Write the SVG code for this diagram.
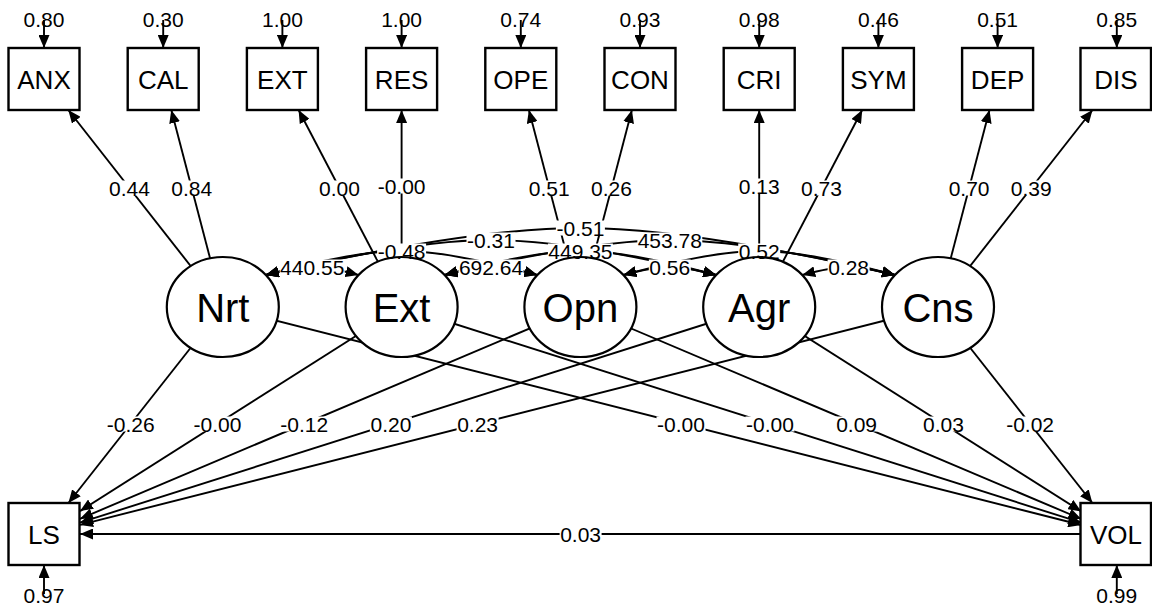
<svg xmlns="http://www.w3.org/2000/svg" width="1152" height="609" viewBox="0 0 1152 609">
<style>
.e{fill:none;stroke:#000;stroke-width:1.9}
.a{marker-end:url(#ah)}
.d{marker-start:url(#ah);marker-end:url(#ah)}
.box{fill:#fff;stroke:#000;stroke-width:2.4}
.lat{fill:#fff;stroke:#000;stroke-width:2.2}
.t{font-family:"Liberation Sans",Arial,sans-serif;text-anchor:middle;fill:#000}
.mn{font-size:26px}
.lt{font-size:40px}
.lb{font-size:21px}
.bg{fill:#fff}
</style>
<defs>
<marker id="ah" viewBox="0 0 13 11" refX="13" refY="5.5" markerWidth="13" markerHeight="11" markerUnits="userSpaceOnUse" orient="auto-start-reverse"><path d="M0,0 L13,5.5 L0,11 z" fill="#000"/></marker>
</defs>
<rect width="1152" height="609" fill="#fff"/>

<g id="connectors">
<!-- loadings -->
<path class="e a" d="M222.8,307 L68.3,110"/>
<path class="e a" d="M222.8,307 L171.3,110"/>
<path class="e a" d="M401.6,307 L298.6,110"/>
<path class="e a" d="M401.6,307 L401.6,110"/>
<path class="e a" d="M580.4,307 L528.9,110"/>
<path class="e a" d="M580.4,307 L631.9,110"/>
<path class="e a" d="M759.2,307 L759.2,110"/>
<path class="e a" d="M759.2,307 L862.2,110"/>
<path class="e a" d="M938,307 L989.5,110"/>
<path class="e a" d="M938,307 L1092.5,110"/>
<!-- residual variances -->
<path class="e a" d="M44,20 L44,48"/>
<path class="e a" d="M163.2,20 L163.2,48"/>
<path class="e a" d="M282.4,20 L282.4,48"/>
<path class="e a" d="M401.6,20 L401.6,48"/>
<path class="e a" d="M520.8,20 L520.8,48"/>
<path class="e a" d="M640,20 L640,48"/>
<path class="e a" d="M759.2,20 L759.2,48"/>
<path class="e a" d="M878.4,20 L878.4,48"/>
<path class="e a" d="M997.6,20 L997.6,48"/>
<path class="e a" d="M1116.8,20 L1116.8,48"/>
<path class="e a" d="M44,594 L44,565"/>
<path class="e a" d="M1116.8,594 L1116.8,565"/>
<!-- regressions to LS -->
<path class="e a" d="M222.8,307 L68.4,503"/>
<path class="e a" d="M401.6,307 L80,511.1"/>
<path class="e a" d="M580.4,307 L80,518.8"/>
<path class="e a" d="M759.2,307 L80,522.6"/>
<path class="e a" d="M938,307 L80,524.9"/>
<!-- regressions to VOL -->
<path class="e a" d="M222.8,307 L1081.3,525"/>
<path class="e a" d="M401.6,307 L1081.3,522.7"/>
<path class="e a" d="M580.4,307 L1081.3,519"/>
<path class="e a" d="M759.2,307 L1081.3,511.5"/>
<path class="e a" d="M938,307 L1092.4,503"/>
<!-- VOL -> LS -->
<path class="e a" d="M1081.3,534 L80,534"/>
<!-- covariances -->
<path class="e d" d="M265.8,275 Q296,267 312.2,267 Q328.4,267 358.6,275"/>
<path class="e d" d="M265.8,275 Q354.1,251 401.6,251 Q449.1,251 537.4,275"/>
<path class="e d" d="M265.8,275 Q412.2,240 491,240 Q569.8,240 716.2,275"/>
<path class="e d" d="M265.8,275 Q470.3,228 580.4,228 Q690.5,228 895,275"/>
<path class="e d" d="M444.6,275 Q474.8,267 491,267 Q507.2,267 537.4,275"/>
<path class="e d" d="M444.6,275 Q532.9,251 580.4,251 Q627.9,251 716.2,275"/>
<path class="e d" d="M444.6,275 Q591,240 669.8,240 Q748.6,240 895,275"/>
<path class="e d" d="M623.4,275 Q653.6,267 669.8,267 Q686,267 716.2,275"/>
<path class="e d" d="M623.4,275 Q711.7,251 759.2,251 Q806.7,251 895,275"/>
<path class="e d" d="M802.2,275 Q832.4,267 848.6,267 Q864.8,267 895,275"/>
</g>

<g id="label-backgrounds" class="bg">
<rect x="108.5" y="180.5" width="42" height="15"/>
<rect x="170.7" y="180.5" width="42" height="15"/>
<rect x="318.4" y="180.5" width="42" height="15"/>
<rect x="377.1" y="178.5" width="49" height="15"/>
<rect x="528.3" y="180.5" width="42" height="15"/>
<rect x="590.5" y="180.5" width="42" height="15"/>
<rect x="738.2" y="178.5" width="42" height="15"/>
<rect x="800.4" y="180.5" width="42" height="15"/>
<rect x="948.1" y="180.5" width="42" height="15"/>
<rect x="1010.3" y="180.5" width="42" height="15"/>
<rect x="106.2" y="416.5" width="49" height="15"/>
<rect x="192.9" y="416.5" width="49" height="15"/>
<rect x="279.7" y="416.5" width="49" height="15"/>
<rect x="369.9" y="416.5" width="42" height="15"/>
<rect x="456.6" y="416.5" width="42" height="15"/>
<rect x="656.5" y="416.5" width="49" height="15"/>
<rect x="745.4" y="416.5" width="49" height="15"/>
<rect x="835.6" y="416.5" width="42" height="15"/>
<rect x="922.4" y="416.5" width="42" height="15"/>
<rect x="1005.6" y="416.5" width="49" height="15"/>
<rect x="559.6" y="526.5" width="42" height="15"/>
<rect x="279.7" y="259.5" width="65" height="15"/>
<rect x="377.1" y="243.5" width="49" height="15"/>
<rect x="466.5" y="232.5" width="49" height="15"/>
<rect x="555.9" y="220.5" width="49" height="15"/>
<rect x="458.5" y="259.5" width="65" height="15"/>
<rect x="547.9" y="243.5" width="65" height="15"/>
<rect x="637.3" y="232.5" width="65" height="15"/>
<rect x="648.8" y="259.5" width="42" height="15"/>
<rect x="738.2" y="243.5" width="42" height="15"/>
<rect x="827.6" y="259.5" width="42" height="15"/>
</g>

<g id="ANX"><rect class="box" x="8.5" y="48" width="71" height="62"/><text class="t mn" x="44" y="88.5">ANX</text></g>
<g id="CAL"><rect class="box" x="127.7" y="48" width="71" height="62"/><text class="t mn" x="163.2" y="88.5">CAL</text></g>
<g id="EXT"><rect class="box" x="246.9" y="48" width="71" height="62"/><text class="t mn" x="282.4" y="88.5">EXT</text></g>
<g id="RES"><rect class="box" x="366.1" y="48" width="71" height="62"/><text class="t mn" x="401.6" y="88.5">RES</text></g>
<g id="OPE"><rect class="box" x="485.3" y="48" width="71" height="62"/><text class="t mn" x="520.8" y="88.5">OPE</text></g>
<g id="CON"><rect class="box" x="604.5" y="48" width="71" height="62"/><text class="t mn" x="640" y="88.5">CON</text></g>
<g id="CRI"><rect class="box" x="723.7" y="48" width="71" height="62"/><text class="t mn" x="759.2" y="88.5">CRI</text></g>
<g id="SYM"><rect class="box" x="842.9" y="48" width="71" height="62"/><text class="t mn" x="878.4" y="88.5">SYM</text></g>
<g id="DEP"><rect class="box" x="962.1" y="48" width="71" height="62"/><text class="t mn" x="997.6" y="88.5">DEP</text></g>
<g id="DIS"><rect class="box" x="1080.5" y="48" width="70.5" height="62"/><text class="t mn" x="1116" y="88.5">DIS</text></g>

<g id="Nrt"><ellipse class="lat" cx="222.8" cy="307" rx="56" ry="50"/><text class="t lt" x="222.8" y="321.5">Nrt</text></g>
<g id="Ext"><ellipse class="lat" cx="401.6" cy="307" rx="56" ry="50"/><text class="t lt" x="401.6" y="321.5">Ext</text></g>
<g id="Opn"><ellipse class="lat" cx="580.4" cy="307" rx="56" ry="50"/><text class="t lt" x="580.4" y="321.5">Opn</text></g>
<g id="Agr"><ellipse class="lat" cx="759.2" cy="307" rx="56" ry="50"/><text class="t lt" x="759.2" y="321.5">Agr</text></g>
<g id="Cns"><ellipse class="lat" cx="938" cy="307" rx="56" ry="50"/><text class="t lt" x="938" y="321.5">Cns</text></g>

<g id="LS"><rect class="box" x="8.5" y="503" width="71" height="62"/><text class="t mn" x="44" y="543.5">LS</text></g>
<g id="VOL"><rect class="box" x="1080.5" y="503" width="70.5" height="62"/><text class="t mn" x="1116" y="543.5">VOL</text></g>

<g id="variance-labels" class="t lb">
<text x="44" y="27">0.80</text>
<text x="163.2" y="27">0.30</text>
<text x="282.4" y="27">1.00</text>
<text x="401.6" y="27">1.00</text>
<text x="520.8" y="27">0.74</text>
<text x="640" y="27">0.93</text>
<text x="759.2" y="27">0.98</text>
<text x="878.4" y="27">0.46</text>
<text x="997.6" y="27">0.51</text>
<text x="1116.8" y="27">0.85</text>
<text x="44" y="603">0.97</text>
<text x="1116.8" y="603">0.99</text>
</g>

<g id="edge-labels" class="t lb">
<text x="129.5" y="195.5">0.44</text>
<text x="191.7" y="195.5">0.84</text>
<text x="339.4" y="195.5">0.00</text>
<text x="401.6" y="193.5">-0.00</text>
<text x="549.3" y="195.5">0.51</text>
<text x="611.5" y="195.5">0.26</text>
<text x="759.2" y="193.5">0.13</text>
<text x="821.4" y="195.5">0.73</text>
<text x="969.1" y="195.5">0.70</text>
<text x="1031.3" y="195.5">0.39</text>
<text x="130.7" y="431.5">-0.26</text>
<text x="217.4" y="431.5">-0.00</text>
<text x="304.2" y="431.5">-0.12</text>
<text x="390.9" y="431.5">0.20</text>
<text x="477.6" y="431.5">0.23</text>
<text x="681" y="431.5">-0.00</text>
<text x="769.9" y="431.5">-0.00</text>
<text x="856.6" y="431.5">0.09</text>
<text x="943.4" y="431.5">0.03</text>
<text x="1030.1" y="431.5">-0.02</text>
<text x="580.6" y="541.5">0.03</text>
<text x="312.2" y="274.5">440.55</text>
<text x="401.6" y="258.5">-0.48</text>
<text x="491" y="247.5">-0.31</text>
<text x="580.4" y="235.5">-0.51</text>
<text x="491" y="274.5">692.64</text>
<text x="580.4" y="258.5">449.35</text>
<text x="669.8" y="247.5">453.78</text>
<text x="669.8" y="274.5">0.56</text>
<text x="759.2" y="258.5">0.52</text>
<text x="848.6" y="274.5">0.28</text>
</g>
</svg>
